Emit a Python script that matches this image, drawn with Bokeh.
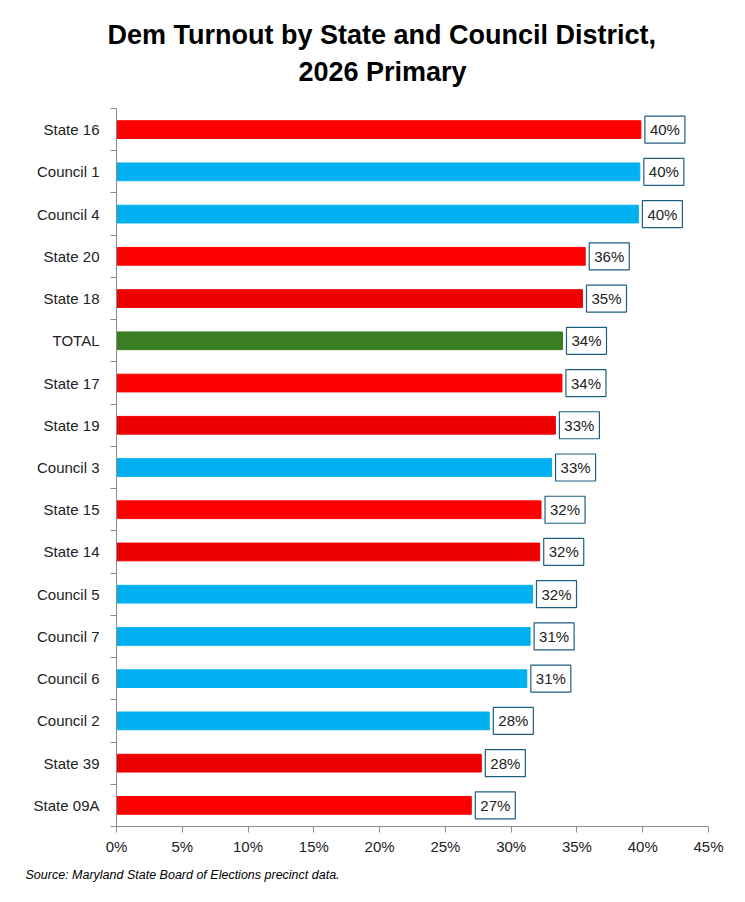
from bokeh.plotting import figure
from bokeh.layouts import column
from bokeh.models import Range1d, FixedTicker, NumeralTickFormatter, Title, ColumnDataSource
from bokeh.core.properties import value
from bokeh.embed import file_html
from bokeh.resources import INLINE

categories = ["State 16", "Council 1", "Council 4", "State 20", "State 18", "TOTAL",
              "State 17", "State 19", "Council 3", "State 15", "State 14", "Council 5",
              "Council 7", "Council 6", "Council 2", "State 39", "State 09A"]
turnout = [0.3986, 0.3978, 0.3967, 0.3563, 0.3542, 0.3390, 0.3386, 0.3336, 0.3307,
           0.3227, 0.3217, 0.3162, 0.3144, 0.3119, 0.2834, 0.2773, 0.2697]
bar_colors = ["#FF0000", "#00B0F0", "#00B0F0", "#FF0000", "#EE0000", "#3A7D22",
              "#FF0000", "#EE0000", "#00B0F0", "#FF0000", "#EE0000", "#00B0F0",
              "#00B0F0", "#00B0F0", "#00B0F0", "#EE0000", "#FF0000"]
x_ticks = [0, 0.05, 0.10, 0.15, 0.20, 0.25, 0.30, 0.35, 0.40, 0.45]
title_lines = ["Dem Turnout by State and Council District,", "2026 Primary"]
source_note = "Source: Maryland State Board of Elections precinct data."

n = len(categories)
ypos = [n - 1 - i for i in range(n)]
labels = [f"{round(v * 100)}%" for v in turnout]

src = ColumnDataSource(dict(y=ypos, v=turnout, c=bar_colors, lab=labels, cat=categories))

FONT = "Liberation Sans"
W = 729
FRAME_L, FRAME_R = 116, 708

# ---- title strip: an empty figure whose "above" panel holds the two title lines
tf = figure(width=W, height=108, output_backend="svg", toolbar_location=None,
            x_range=Range1d(0, 1), y_range=Range1d(0, 1),
            x_axis_type=None, y_axis_type=None,
            min_border_left=FRAME_L, min_border_right=W - FRAME_R,
            min_border_top=88, min_border_bottom=0)
tf.outline_line_color = None
tf.grid.visible = False
tf.add_layout(Title(text=title_lines[1], align="left", offset=182, standoff=4,
                    text_font=FONT, text_font_style="bold", text_font_size="27px",
                    text_color="black"), "above")
tf.add_layout(Title(text=title_lines[0], align="left", offset=-9, standoff=6,
                    text_font=FONT, text_font_style="bold", text_font_size="27px",
                    text_color="black"), "above")

# ---- main chart
p = figure(width=W, height=781, output_backend="svg", toolbar_location=None,
           x_range=Range1d(0, 0.45), y_range=Range1d(-0.5, n - 0.5),
           min_border_left=FRAME_L, min_border_right=W - FRAME_R, min_border_top=0,
           min_border_bottom=63)
p.outline_line_color = None
p.grid.visible = False
p.background_fill_color = "white"

p.hbar(y="y", right="v", left=0, height=0.42, color="c", source=src)

p.text(x="v", y="y", text="lab", source=src, x_offset=4, text_align="left",
       text_baseline="middle", text_font=value(FONT), text_font_size="15px",
       text_color="#222222", background_fill_color="white",
       border_line_color="#1F5F80", border_line_width=1.2, padding=5)

# x axis
xa = p.xaxis[0]
xa.ticker = FixedTicker(ticks=x_ticks)
xa.formatter = NumeralTickFormatter(format="0%")
xa.axis_line_color = "#8C8C8C"
xa.major_tick_line_color = "#8C8C8C"
xa.major_tick_out = 6
xa.major_tick_in = 0
xa.minor_tick_line_color = None
xa.major_label_text_font = FONT
xa.major_label_text_font_size = "15px"
xa.major_label_text_color = "#222222"
xa.major_label_standoff = 5

# y axis
ya = p.yaxis[0]
ya.ticker = FixedTicker(ticks=ypos, minor_ticks=[k - 0.5 for k in range(n + 1)])
ya.major_label_overrides = {yy: c for yy, c in zip(ypos, categories)}
ya.axis_line_color = "#8C8C8C"
ya.major_tick_line_color = None
ya.major_tick_out = 0
ya.major_tick_in = 0
ya.minor_tick_line_color = "#8C8C8C"
ya.minor_tick_out = 6
ya.minor_tick_in = 0
ya.major_label_text_font = FONT
ya.major_label_text_font_size = "15px"
ya.major_label_text_color = "#222222"
ya.major_label_standoff = 11

# source note
p.add_layout(Title(text=source_note, align="left", offset=-91, standoff=16,
                   text_font=FONT, text_font_style="italic", text_font_size="12.5px",
                   text_color="black"), "below")

open("out.html", "w").write(file_html(column(tf, p, spacing=0), INLINE))
